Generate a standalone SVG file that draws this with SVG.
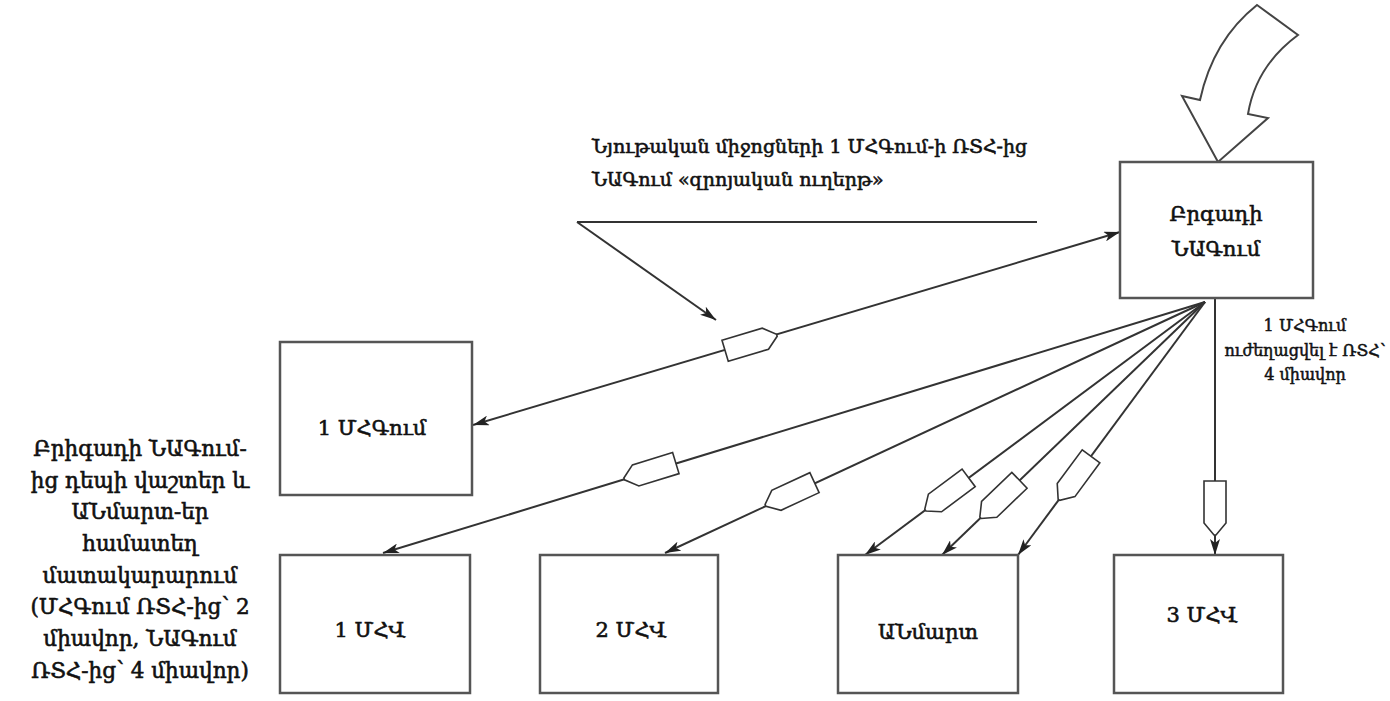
<svg xmlns="http://www.w3.org/2000/svg" xmlns:xlink="http://www.w3.org/1999/xlink" width="1390" height="701" viewBox="0 0 1390 701">
<style>
.box{fill:#fff;stroke:#555;stroke-width:2.5}
.t{font-family:"DejaVu Serif","Liberation Serif",serif;fill:#111;stroke:#111;stroke-width:0.6;text-anchor:middle}
.lbl{font-size:21px}
.side{font-size:21.5px}
.top{font-size:19px;text-anchor:start}
.small{font-size:16px;stroke-width:0.5}
.ln{fill:none;stroke:#333;stroke-width:2}
.hex{fill:#fff;stroke:#333;stroke-width:1.6}
</style>
<defs>
<marker id="ah" viewBox="0 0 16 10" refX="16" refY="5" markerWidth="16" markerHeight="10" orient="auto-start-reverse" markerUnits="userSpaceOnUse">
<path d="M0,0 L16,5 L0,10 L4,5 Z" fill="#222"/>
</marker>
<polygon id="hx" points="-27,-11 15,-11 27,-1 27,1 15,11 -27,11"/>
</defs>
<rect width="1390" height="701" fill="#fff"/>

<g id="big-arrow">
<path d="M1257,5 L1298,35 Q1256,66 1248,114 L1268,118 L1218,162 L1182,96 L1200,100 Q1213,40 1257,5 Z" fill="#fff" stroke="#444" stroke-width="2"/>
</g>

<g id="connectors">
<line class="ln" x1="577" y1="222" x2="1037" y2="222"/>
<line class="ln" x1="577" y1="222" x2="716" y2="320" marker-end="url(#ah)"/>
<line class="ln" x1="473" y1="425" x2="1120" y2="232" marker-start="url(#ah)" marker-end="url(#ah)"/>
<line class="ln" x1="1205" y1="302" x2="383" y2="553" marker-end="url(#ah)"/>
<line class="ln" x1="1205" y1="302" x2="665" y2="553" marker-end="url(#ah)"/>
<line class="ln" x1="1205" y1="302" x2="865" y2="555" marker-end="url(#ah)"/>
<line class="ln" x1="1205" y1="302" x2="942" y2="555" marker-end="url(#ah)"/>
<line class="ln" x1="1205" y1="302" x2="1018" y2="555" marker-end="url(#ah)"/>
<line class="ln" x1="1215" y1="298" x2="1215" y2="555" marker-end="url(#ah)"/>
<use xlink:href="#hx" class="hex" transform="translate(751,343) rotate(-16.6)"/>
<use xlink:href="#hx" class="hex" transform="translate(650,471) rotate(163)"/>
<use xlink:href="#hx" class="hex" transform="translate(790,494) rotate(155.1)"/>
<use xlink:href="#hx" class="hex" transform="translate(947,494) rotate(143.3)"/>
<use xlink:href="#hx" class="hex" transform="translate(1000,499) rotate(136.1)"/>
<use xlink:href="#hx" class="hex" transform="translate(1075,478) rotate(126.5)"/>
<use xlink:href="#hx" class="hex" transform="translate(1215,508) rotate(90)"/>
</g>

<g id="label-top">
<text class="t top" x="592" y="153">Նյութական միջոցների 1 ՄՀԳում-ի ՌՏՀ-ից</text>
<text class="t top" x="592" y="186">ՆԱԳում «զրոյական ուղերթ»</text>
</g>

<g id="node-brigade">
<rect class="box" x="1120" y="162" width="193" height="136"/>
<text class="t lbl" x="1216" y="221">Բրգադի</text>
<text class="t lbl" x="1216" y="256">ՆԱԳում</text>
</g>

<g id="label-right">
<text class="t small" x="1305" y="331">1 ՄՀԳում</text>
<text class="t small" x="1305" y="356">ուժեղացվել է ՌՏՀ՝</text>
<text class="t small" x="1305" y="380">4 միավոր</text>
</g>

<g id="node-mhgum">
<rect class="box" x="280" y="342" width="192" height="153"/>
<text class="t lbl" x="372" y="435">1 ՄՀԳում</text>
</g>

<g id="node-mhv1">
<rect class="box" x="280" y="555" width="190" height="138"/>
<text class="t lbl" x="370" y="637">1 ՄՀՎ</text>
</g>

<g id="node-mhv2">
<rect class="box" x="540" y="555" width="178" height="138"/>
<text class="t lbl" x="631" y="637">2 ՄՀՎ</text>
</g>

<g id="node-anmart">
<rect class="box" x="838" y="555" width="180" height="138"/>
<text class="t lbl" x="928" y="639">ԱՆմարտ</text>
</g>

<g id="node-mhv3">
<rect class="box" x="1114" y="555" width="169" height="138"/>
<text class="t lbl" x="1202" y="622">3 ՄՀՎ</text>
</g>

<g id="label-left">
<text class="t side" x="140" y="456">Բրիգադի ՆԱԳում-</text>
<text class="t side" x="140" y="488">ից դեպի վաշտեր և</text>
<text class="t side" x="140" y="519">ԱՆմարտ-եր</text>
<text class="t side" x="140" y="551">համատեղ</text>
<text class="t side" x="140" y="583">մատակարարում</text>
<text class="t side" x="140" y="614">(ՄՀԳում ՌՏՀ-ից՝ 2</text>
<text class="t side" x="140" y="646">միավոր, ՆԱԳում</text>
<text class="t side" x="140" y="678">ՌՏՀ-ից՝ 4 միավոր)</text>
</g>
</svg>
